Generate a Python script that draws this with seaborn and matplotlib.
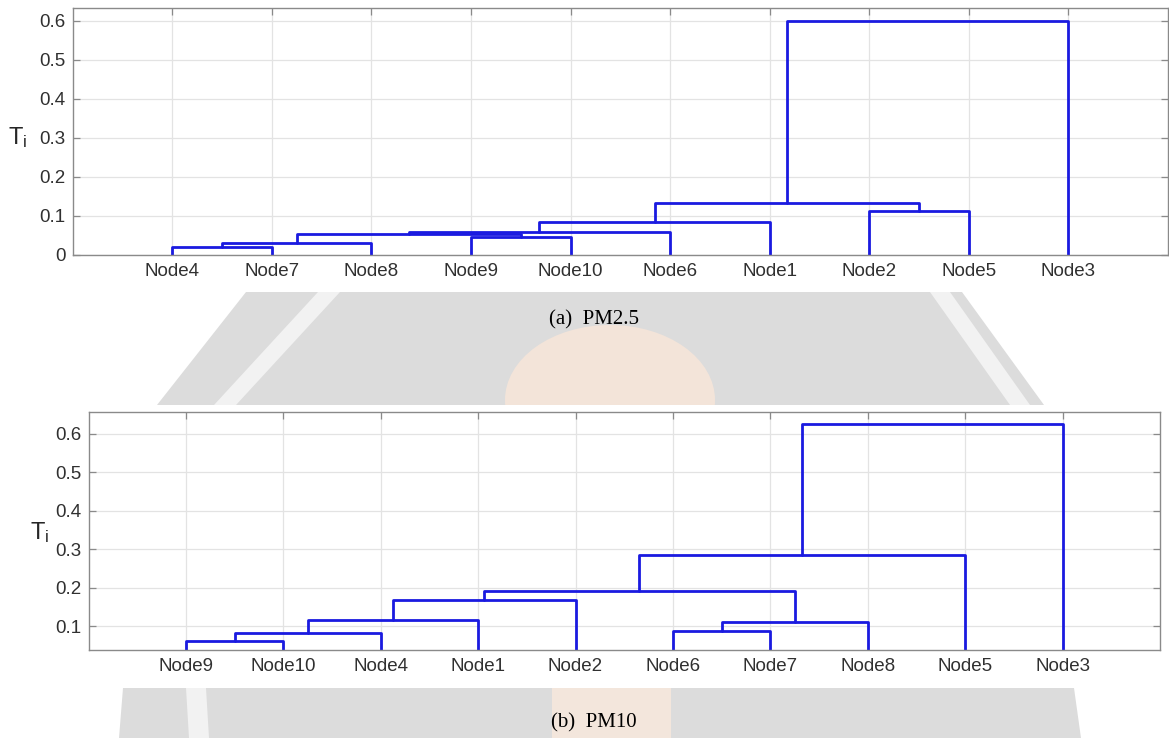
import numpy as np
import pandas as pd
import matplotlib
matplotlib.use("Agg")
import matplotlib.pyplot as plt
import seaborn as sns
from matplotlib.patches import Polygon, Ellipse

# ---------------- data ----------------
# (a) PM2.5 : leaf order along the x axis and linkage (indices: leaves 0..9, clusters 10..)
pm25_leaves = ["Node4", "Node7", "Node8", "Node9", "Node10", "Node6", "Node1", "Node2", "Node5", "Node3"]
pm25_left = [0, 10, 3, 11, 13, 14, 7, 15, 17]
pm25_right = [1, 2, 4, 12, 5, 6, 8, 16, 9]
pm25_height = [0.021, 0.030, 0.047, 0.053, 0.060, 0.084, 0.113, 0.132, 0.600]

# (b) PM10
pm10_leaves = ["Node9", "Node10", "Node4", "Node1", "Node2", "Node6", "Node7", "Node8", "Node5", "Node3"]
pm10_left = [0, 10, 5, 12, 11, 14, 15, 16, 17]
pm10_right = [1, 2, 6, 7, 3, 4, 13, 8, 9]
pm10_height = [0.062, 0.081, 0.088, 0.110, 0.117, 0.167, 0.191, 0.284, 0.626]

pm25_yticks = [0, 0.1, 0.2, 0.3, 0.4, 0.5, 0.6]
pm25_yticklabels = ["0", "0.1", "0.2", "0.3", "0.4", "0.5", "0.6"]
pm10_yticks = [0.1, 0.2, 0.3, 0.4, 0.5, 0.6]
pm10_yticklabels = ["0.1", "0.2", "0.3", "0.4", "0.5", "0.6"]
captions = ["(a)  PM2.5", "(b)  PM10"]


def dendro_frame(leaves, left, right, height):
    n = len(leaves)
    xpos = {i: float(i + 1) for i in range(n)}
    ypos = {i: 0.0 for i in range(n)}
    rows = []
    for k, (a, b, h) in enumerate(zip(left, right, height)):
        pts = [(xpos[a], ypos[a]), (xpos[a], h), (xpos[b], h), (xpos[b], ypos[b])]
        for j, (px, py) in enumerate(pts):
            rows.append({"link": k, "order": j, "x": px, "y": py})
        cid = n + k
        xpos[cid] = (xpos[a] + xpos[b]) / 2.0
        ypos[cid] = h
    return pd.DataFrame(rows)


sns.set_theme(style="whitegrid")
plt.rcParams["font.family"] = ["Liberation Sans", "DejaVu Sans"]
plt.rcParams["mathtext.fontset"] = "custom"
plt.rcParams["mathtext.rm"] = "Liberation Sans"
plt.rcParams["mathtext.it"] = "Liberation Sans"

W, H = 1169, 738
fig = plt.figure(figsize=(W / 100, H / 100), dpi=100, facecolor="white")


def fx(px):
    return px / W


def fy(py):
    return 1 - py / H


# --------- background watermark (decorative) ---------
gray = "#dcdcdc"
wm = [
    [(246, 292), (962, 292), (1044, 405), (157, 405)],
    [(123, 688), (1074, 688), (1081, 738), (119, 738)],
]
for poly in wm:
    fig.patches.append(Polygon([(fx(a), fy(b)) for a, b in poly], closed=True,
                               transform=fig.transFigure, facecolor=gray,
                               edgecolor="none", zorder=-10))
stripes = [
    [(318, 292), (340, 292), (236, 405), (214, 405)],
    [(186, 688), (206, 688), (209, 738), (189, 738)],
    [(930, 292), (950, 292), (1030, 405), (1010, 405)],
]
for poly in stripes:
    fig.patches.append(Polygon([(fx(a), fy(b)) for a, b in poly], closed=True,
                               transform=fig.transFigure, facecolor="#f2f2f2",
                               edgecolor="none", zorder=-9))
fig.patches.append(Ellipse((fx(610), fy(400)), 210 / W, 150 / H, transform=fig.transFigure,
                           facecolor="#f3e4d9", edgecolor="none", zorder=-8))
fig.patches.append(Polygon([(fx(552), fy(688)), (fx(671), fy(688)), (fx(671), fy(738)), (fx(552), fy(738))],
                           closed=True, transform=fig.transFigure, facecolor="#f3e6dc",
                           edgecolor="none", zorder=-8))
# white cards behind the two figures
for (y0, y1) in [(0, 292), (405, 688)]:
    fig.patches.append(Polygon([(0, fy(y0)), (1, fy(y0)), (1, fy(y1)), (0, fy(y1))], closed=True,
                               transform=fig.transFigure, facecolor="white",
                               edgecolor="none", zorder=-7))

# --------- axes ---------
ax1 = fig.add_axes([fx(72.7), fy(255), fx(1168 - 72.7), (255 - 8) / H])
ax2 = fig.add_axes([fx(88.5), fy(650), fx(1160 - 88.5), (650 - 411.7) / H])

panels = [
    (ax1, pm25_leaves, pm25_left, pm25_right, pm25_height, pm25_yticks, pm25_yticklabels, (0, 0.632)),
    (ax2, pm10_leaves, pm10_left, pm10_right, pm10_height, pm10_yticks, pm10_yticklabels, (0.038, 0.657)),
]

edge = "#8a8a8a"
for ax, leaves, left, right, height, yt, ytl, ylim in panels:
    df = dendro_frame(leaves, left, right, height)
    sns.lineplot(data=df, x="x", y="y", units="link", estimator=None, sort=False,
                 color="#1a1ae0", linewidth=2.0, ax=ax, legend=False)
    ax.set_xlim(0, 11)
    ax.set_ylim(*ylim)
    ax.set_xticks(np.arange(1, len(leaves) + 1))
    ax.set_xticklabels(leaves, fontsize=13.5, color="#303030")
    ax.set_yticks(yt)
    ax.set_yticklabels(ytl, fontsize=13.5, color="#303030")
    ax.set_xlabel("")
    ax.set_ylabel("")
    ax.set_facecolor("white")
    ax.grid(True, color="#e3e3e3", linewidth=0.9)
    for s in ax.spines.values():
        s.set_visible(True)
        s.set_color(edge)
        s.set_linewidth(1.0)
    ax.tick_params(direction="in", length=5, width=0.9, color=edge,
                   top=True, right=True, bottom=True, left=True,
                   labeltop=False, labelright=False)
    ax.tick_params(axis="x", pad=6)
    ax.tick_params(axis="y", pad=5)

fig.text(fx(18), fy(138), r"$\mathrm{T_i}$", fontsize=17, ha="center", va="center", color="#262626")
fig.text(fx(39.5), fy(533), r"$\mathrm{T_i}$", fontsize=17, ha="center", va="center", color="#262626")

fig.text(fx(594), fy(320), captions[0], fontsize=15, family="Liberation Serif",
         ha="center", va="center", color="black")
fig.text(fx(594), fy(723), captions[1], fontsize=15, family="Liberation Serif",
         ha="center", va="center", color="black")

fig.savefig("out.png", dpi=100, facecolor=fig.get_facecolor())
